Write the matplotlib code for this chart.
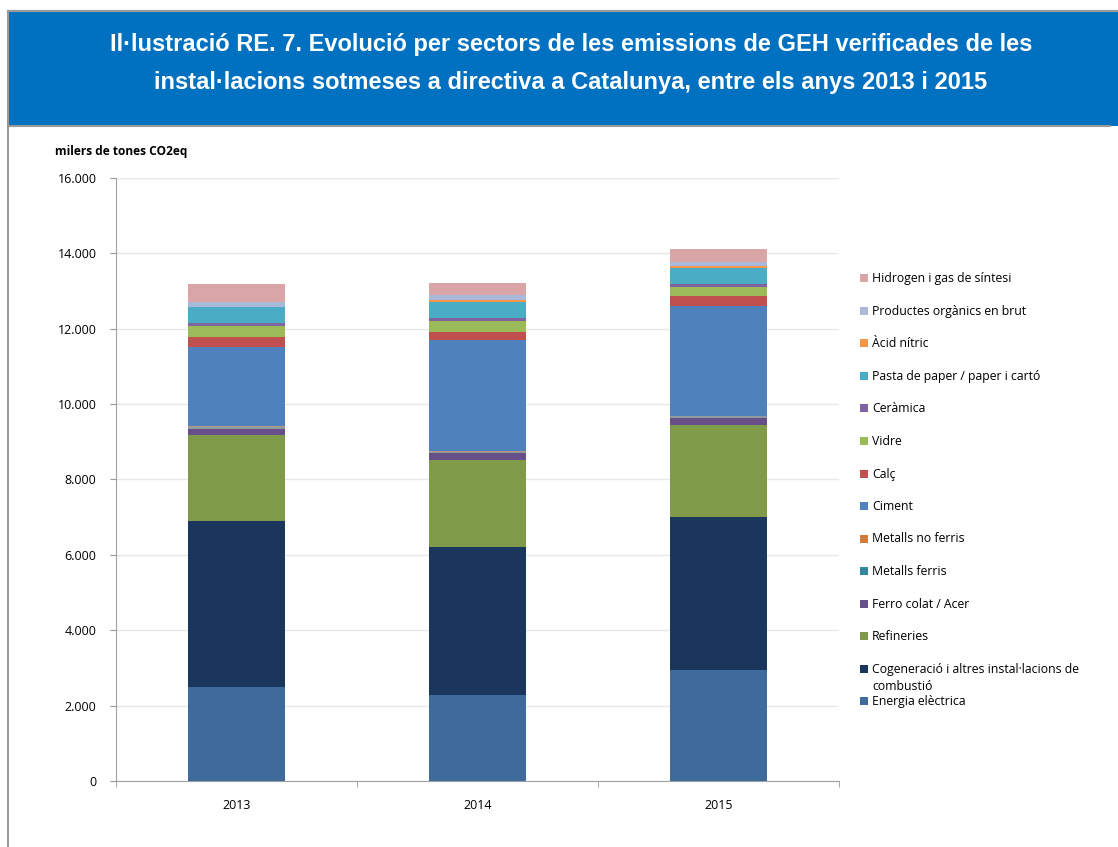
import matplotlib
matplotlib.use("Agg")
import matplotlib.pyplot as plt
from matplotlib.patches import Rectangle
from matplotlib.lines import Line2D
from matplotlib.ticker import FuncFormatter

W, H = 1118, 847
years = ["2013", "2014", "2015"]

# sectors (bottom to top)
sectors = ["Energia elèctrica", "Cogeneració i altres instal·lacions de\ncombustió",
           "Refineries", "Ferro colat / Acer", "Metalls ferris", "Metalls no ferris",
           "Ciment", "Calç", "Vidre", "Ceràmica", "Pasta de paper / paper i cartó",
           "Àcid nítric", "Productes orgànics en brut", "Hidrogen i gas de síntesi"]

energia      = [2500, 2280, 2950]
cogeneracio  = [4400, 3930, 4050]
refineries   = [2280, 2310, 2445]
ferro_colat  = [150, 175, 190]
metalls_fer  = [60, 35, 40]
metalls_nof  = [25, 15, 15]
ciment       = [2100, 2960, 2910]
calc         = [270, 220, 275]
vidre        = [280, 285, 240]
ceramica     = [90, 70, 60]
pasta_paper  = [425, 430, 440]
acid_nitric  = [10, 45, 40]
productes    = [130, 130, 120]
hidrogen     = [470, 320, 340]

series = [energia, cogeneracio, refineries, ferro_colat, metalls_fer, metalls_nof,
          ciment, calc, vidre, ceramica, pasta_paper, acid_nitric, productes, hidrogen]

colors = ["#3f6a9c", "#1a365d", "#7f9a48", "#67508a", "#8e9aa0", "#b8987a",
          "#4f81bd", "#c0504d", "#9bbb59", "#8064a2", "#4bacc6",
          "#f79646", "#a9b9d9", "#d9a5a6"]
legend_colors = list(colors)
legend_colors[4] = "#31859c"
legend_colors[5] = "#d07d3c"

fig = plt.figure(figsize=(W / 100, H / 100), dpi=100)
fig.patch.set_facecolor("white")

def fx(x):
    return x / W

def fy(y):
    return 1 - y / H

# outer frame and title box
fig.add_artist(Rectangle((fx(9), fy(126)), fx(W - 9), (126 - 12) / H,
                         facecolor="#0070c0", edgecolor="none", transform=fig.transFigure))
fig.add_artist(Line2D([fx(8), fx(8)], [fy(11), fy(847)], color="#999999", lw=1.5,
                      transform=fig.transFigure))
fig.add_artist(Line2D([fx(8), fx(W)], [fy(11.5), fy(11.5)], color="#999999", lw=1.5,
                      transform=fig.transFigure))
fig.add_artist(Line2D([fx(8), fx(1110)], [fy(126.5), fy(126.5)], color="#999999", lw=1.5,
                      transform=fig.transFigure))

title1 = "Il·lustració RE. 7. Evolució per sectors de les emissions de GEH verificades de les"
title2 = "instal·lacions sotmeses a directiva a Catalunya, entre els anys 2013 i 2015"
fig.text(fx(571), fy(44), title1, color="white", fontsize=17, fontweight="bold",
         family="Liberation Sans", ha="center", va="center")
fig.text(fx(571), fy(83), title2, color="white", fontsize=17, fontweight="bold",
         family="Liberation Sans", ha="center", va="center")

fig.text(fx(55), fy(152), "milers de tones CO2eq", fontsize=8.6, fontweight="bold",
         family="Open Sans", ha="left", va="center")

ax = fig.add_axes([fx(116), fy(781), (839 - 116) / W, (781 - 178) / H])
x = range(len(years))
bottom = [0, 0, 0]
for vals, c in zip(series, colors):
    ax.bar(x, vals, width=0.4, bottom=bottom, color=c, edgecolor="none", zorder=3)
    bottom = [b + v for b, v in zip(bottom, vals)]

ax.set_xlim(-0.5, 2.5)
ax.set_ylim(0, 16000)
ax.set_yticks(range(0, 16001, 2000))
ax.yaxis.set_major_formatter(FuncFormatter(lambda v, p: f"{int(v):,}".replace(",", ".")))
ax.set_xticks(list(x))
ax.set_xticklabels(years)
ax.set_xticks([-0.5, 0.5, 1.5, 2.5], minor=True)
ax.tick_params(axis="x", which="major", length=0, pad=13, labelsize=9)
ax.tick_params(axis="x", which="minor", length=4, color="#999999", direction="out")
ax.tick_params(axis="y", length=4, color="#999999", labelsize=9, pad=10)
for lab in ax.get_xticklabels() + ax.get_yticklabels():
    lab.set_family("Open Sans")
ax.grid(axis="y", color="#e8e8e8", lw=1, zorder=0)
for s in ["top", "right"]:
    ax.spines[s].set_visible(False)
ax.spines["left"].set_color("#a0a0a0")
ax.spines["bottom"].set_color("#a0a0a0")

# legend (top entry = last sector)
ys = [278, 311, 343, 376, 408, 441, 474, 506, 539, 571, 604, 636, 669, 701]
order = list(range(len(sectors)))[::-1]
for yy, i in zip(ys, order):
    fig.add_artist(Rectangle((fx(860), fy(yy + 4)), fx(8), 8 / H, facecolor=legend_colors[i],
                             edgecolor="none", transform=fig.transFigure))
    for k, line in enumerate(sectors[i].split("\n")):
        fig.text(fx(872), fy(yy + 18 * k), line, fontsize=8.8, family="Open Sans",
                 ha="left", va="center")

fig.savefig("out.png", dpi=100)
